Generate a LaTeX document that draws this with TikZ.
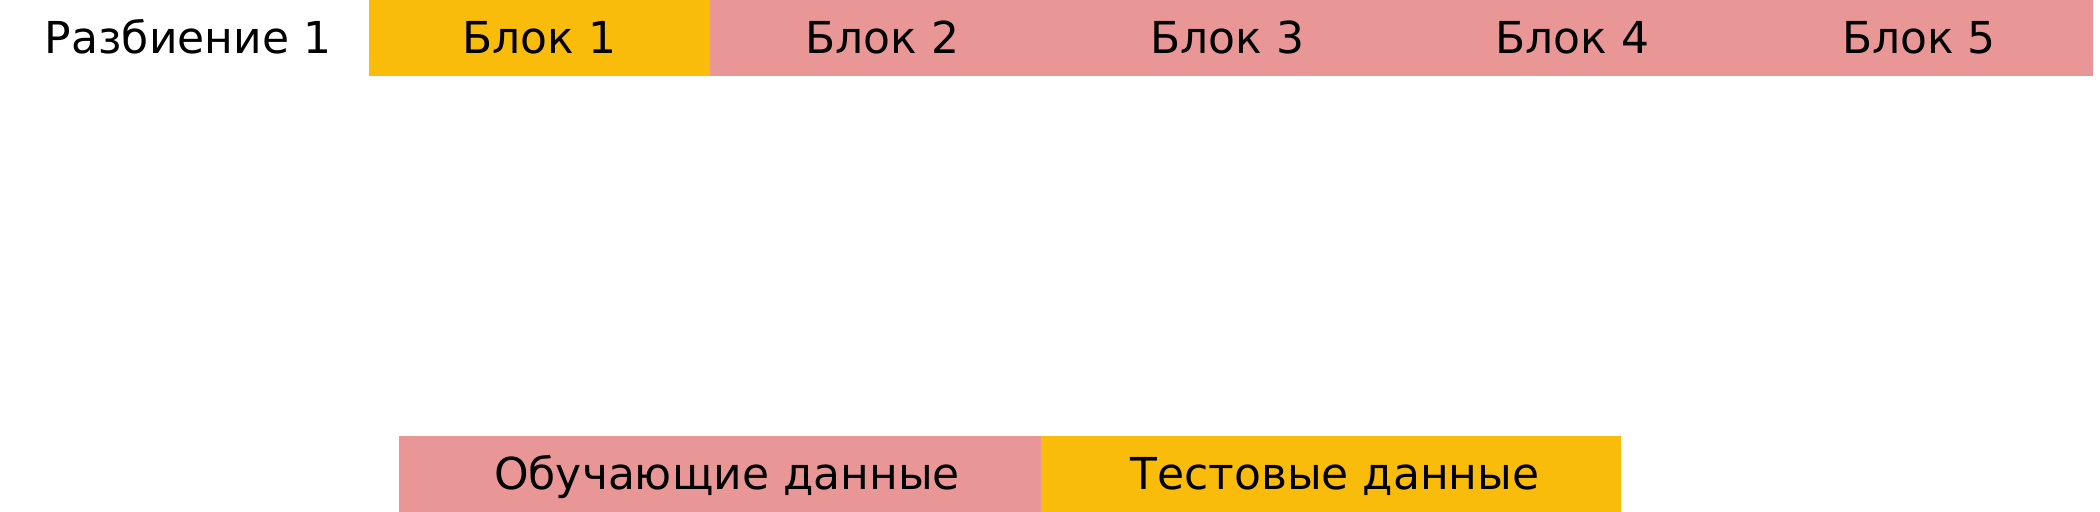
\documentclass[tikz,border=0pt]{standalone}
\usepackage{fontspec}
\setmainfont{DejaVu Sans}
\definecolor{blockyellow}{HTML}{FABC0A}
\definecolor{blockpink}{HTML}{E99697}
\begin{document}
\begin{tikzpicture}[x=0.5pt,y=-0.5pt,
  lbl/.style={inner sep=0pt, text height=16pt, text depth=0pt, font=\fontsize{22}{26}\selectfont, text=black},
  barbox/.style={lbl, minimum height=38pt},
  ybox/.style={barbox, fill=blockyellow},
  pbox/.style={barbox, fill=blockpink}]
\useasboundingbox (0,0) rectangle (2100,512);
\fill[white] (0,0) rectangle (2100,512);
% top row
\node[lbl] (split) at (188,38) {Разбиение 1};
\node[ybox, minimum width=170.5pt] (b1) at (539.5,38) {Блок 1};
\node[pbox, minimum width=172.5pt] (b2) at (882.5,38) {Блок 2};
\node[pbox, minimum width=172.5pt] (b3) at (1227.5,38) {Блок 3};
\node[pbox, minimum width=172.5pt] (b4) at (1572.5,38) {Блок 4};
\node[pbox, minimum width=174pt] (b5) at (1919,38) {Блок 5};
% bottom legend
\node[pbox, minimum width=321pt] (train) at (720,474) {\hspace*{7pt}Обучающие данные};
\node[ybox, minimum width=290pt] (test) at (1331,474) {\hspace*{4pt}Тестовые данные};
\end{tikzpicture}
\end{document}
